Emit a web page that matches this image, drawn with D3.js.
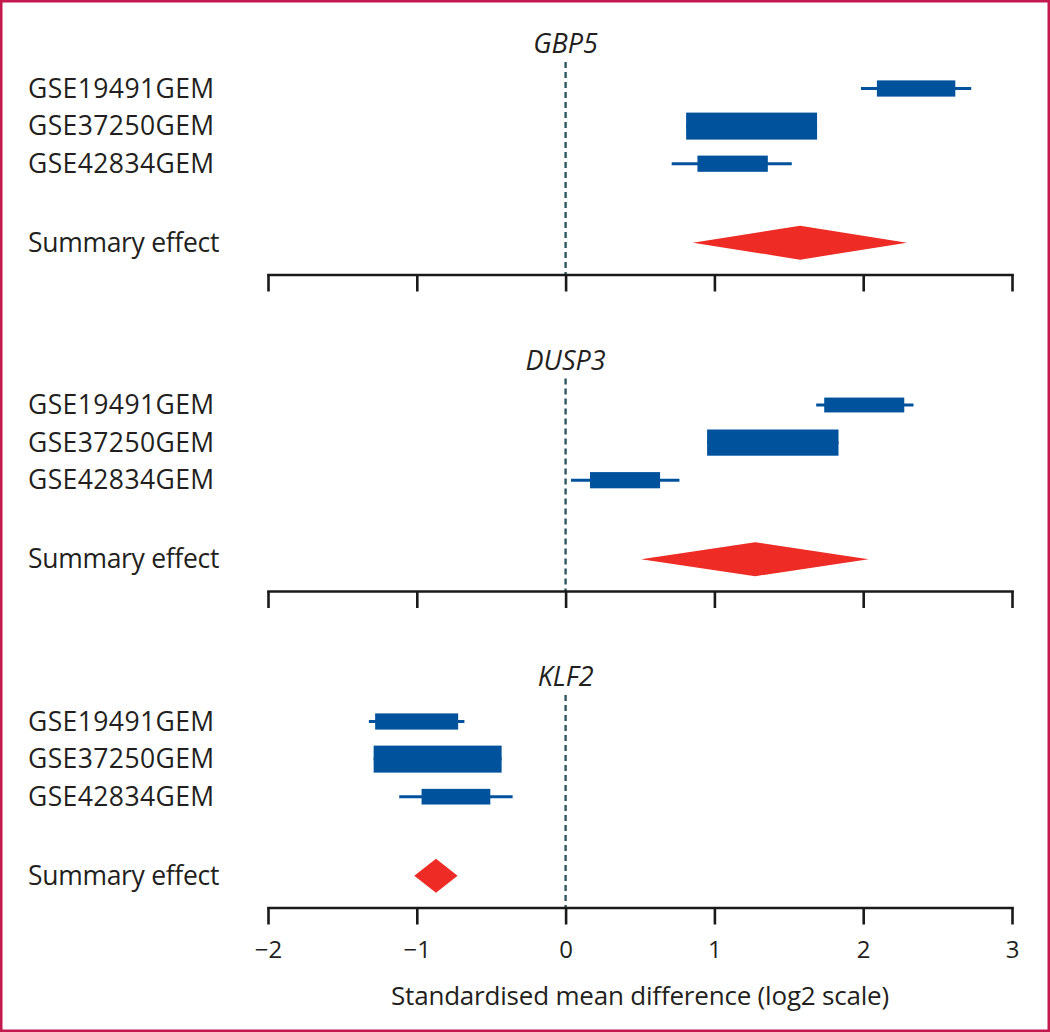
<!DOCTYPE html>
<html><head><meta charset="utf-8">
<script src="https://cdn.jsdelivr.net/npm/d3@7"></script>
<style>
html,body{margin:0;padding:0;background:#fff;}
svg{display:block;}
</style></head><body>
<svg id="chart" width="1050" height="1032"></svg>
<script>
// ---- data ----
const genes = ["GBP5", "DUSP3", "KLF2"];
const studies = ["GSE19491GEM", "GSE37250GEM", "GSE42834GEM"];
const summaryLabel = "Summary effect";
const ciLow   = [[1.985, 0.81, 0.713], [1.684, 0.951, 0.036], [-1.322, -1.29, -1.118]];
const ciHigh  = [[2.726, 1.69, 1.52],  [2.338, 1.834, 0.765], [-0.68, -0.43, -0.356]];
const boxLow  = [[2.092, 0.81, 0.886], [1.738, 0.951, 0.164], [-1.28, -1.29, -0.968]];
const boxHigh = [[2.619, 1.69, 1.359], [2.276, 1.834, 0.635], [-0.722, -0.43, -0.506]];
const weights = [[0.6, 1, 0.6], [0.55, 0.97, 0.6], [0.6, 1, 0.58]];
const summaryLow  = [0.855, 0.507, -1.017];
const summaryMid  = [1.576, 1.274, -0.871];
const summaryHigh = [2.294, 2.036, -0.726];
const xTicks = [-2, -1, 0, 1, 2, 3];
const xLabel = "Standardised mean difference (log2 scale)";

// ---- layout ----
const W = 1050, H = 1032;
const svg = d3.select("#chart");
const FONT = "'Open Sans', sans-serif";
const TEXT = "#231f20";
const BLUE = "#00529c";
const RED = "#ee2c25";

svg.append("rect").attr("x", 1.25).attr("y", 1.25).attr("width", W - 2.5).attr("height", H - 2.5)
  .attr("fill", "#fff").attr("stroke", "#c3194f").attr("stroke-width", 2.5);

const x = d3.scaleLinear().domain([-2, 3]).range([268, 1012]);
const panelTop = d3.scaleLinear().domain([0, 1]).range([0, 316.5]);
const rowY = d3.scaleLinear().domain([0, 1]).range([88.5, 126.1]);
const summaryIndex = 4.1;
const axisY = 274.5;
const boxH = d3.scaleLinear().domain([0, 1]).range([0, 27]);
const diamondHalf = 17;

genes.forEach((gene, g) => {
  const p = svg.append("g").attr("transform", `translate(0,${panelTop(g)})`);

  // title
  p.append("text").attr("x", x(0)).attr("y", 53).attr("text-anchor", "middle")
    .attr("font-family", FONT).attr("font-style", "italic").attr("font-size", 27)
    .attr("fill", TEXT).text(gene);

  // zero reference line
  p.append("line").attr("x1", x(0)).attr("x2", x(0)).attr("y1", 62).attr("y2", axisY)
    .attr("stroke", "#2f5862").attr("stroke-width", 2.4).attr("stroke-dasharray", "6,4");

  // study labels
  p.selectAll("text.study").data(studies).join("text").attr("class", "study")
    .attr("x", 28).attr("y", (d, i) => rowY(i)).attr("dy", "0.35em")
    .attr("font-family", FONT).attr("font-size", 26.5).attr("letter-spacing", 0.4)
    .attr("fill", TEXT).text(d => d);

  p.append("text").attr("x", 28).attr("y", rowY(summaryIndex)).attr("dy", "0.35em")
    .attr("font-family", FONT).attr("font-size", 26.5).attr("letter-spacing", -0.3)
    .attr("fill", TEXT).text(summaryLabel);

  // whiskers
  p.selectAll("line.ci").data(studies).join("line").attr("class", "ci")
    .attr("x1", (d, i) => x(ciLow[g][i])).attr("x2", (d, i) => x(ciHigh[g][i]))
    .attr("y1", (d, i) => rowY(i)).attr("y2", (d, i) => rowY(i))
    .attr("stroke", BLUE).attr("stroke-width", 3);

  // boxes
  p.selectAll("rect.box").data(studies).join("rect").attr("class", "box")
    .attr("x", (d, i) => x(boxLow[g][i]))
    .attr("width", (d, i) => x(boxHigh[g][i]) - x(boxLow[g][i]))
    .attr("y", (d, i) => rowY(i) - boxH(weights[g][i]) / 2)
    .attr("height", (d, i) => boxH(weights[g][i]))
    .attr("fill", BLUE);

  // summary diamond
  const sy = rowY(summaryIndex);
  p.append("path")
    .attr("d", d3.line()([
      [x(summaryLow[g]), sy], [x(summaryMid[g]), sy - diamondHalf],
      [x(summaryHigh[g]), sy], [x(summaryMid[g]), sy + diamondHalf]
    ]) + "Z")
    .attr("fill", RED);

  // axis
  const last = g === genes.length - 1;
  const axis = d3.axisBottom(x).tickValues(xTicks).tickSize(17).tickSizeOuter(0).tickPadding(16)
    .tickFormat(last ? d3.format("~g") : "");
  const ag = p.append("g").attr("transform", `translate(0,${axisY})`).call(axis);
  ag.select(".domain").attr("stroke", "#1a1a1a").attr("stroke-width", 2.6).attr("stroke-linecap", "square");
  ag.selectAll(".tick line").attr("stroke", "#1a1a1a").attr("stroke-width", 2.6);
  ag.selectAll(".tick text").attr("font-family", FONT).attr("font-size", 24).attr("fill", TEXT);

  if (last) {
    p.append("text").attr("x", (x(-2) + x(3)) / 2).attr("y", axisY + 97)
      .attr("text-anchor", "middle").attr("font-family", FONT).attr("font-size", 26)
      .attr("letter-spacing", -0.2).attr("fill", TEXT).text(xLabel);
  }
});
</script>
</body></html>
